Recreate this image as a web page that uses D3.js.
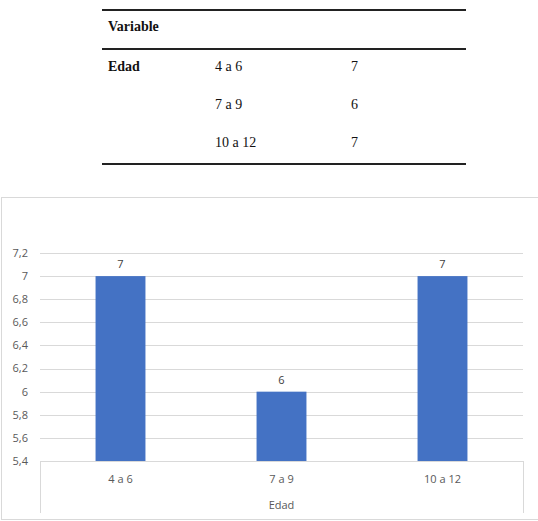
<!DOCTYPE html>
<html><head><meta charset="utf-8">
<script src="https://cdn.jsdelivr.net/npm/d3@7"></script>
<style>body{margin:0;background:#fff}svg{display:block}</style>
</head><body>
<script>
const categories = ["4 a 6", "7 a 9", "10 a 12"];
const values = [7, 6, 7];
const yTicks = [5.4, 5.6, 5.8, 6, 6.2, 6.4, 6.6, 6.8, 7, 7.2];
const tableHeader = "Variable";
const groupLabel = "Edad";

(function () {
const W = 538, H = 521;
const svg = d3.select("body").append("svg").attr("width", W).attr("height", H);

// ---- Table ----
const tFont = "'Liberation Serif','Times New Roman',serif";
const tx0 = 102, tx1 = 466;
[10, 49, 164].forEach(yy => svg.append("line").attr("x1", tx0).attr("x2", tx1).attr("y1", yy).attr("y2", yy)
  .attr("stroke", "#222").attr("stroke-width", 2));
svg.append("text").attr("x", 108).attr("y", 31).attr("font-family", tFont).attr("font-size", 14)
  .attr("font-weight", "bold").attr("fill", "#111").text(tableHeader);
svg.append("text").attr("x", 108).attr("y", 71).attr("font-family", tFont).attr("font-size", 14)
  .attr("font-weight", "bold").attr("fill", "#111").text(groupLabel);
categories.forEach((c, i) => {
  const yy = 71 + i * 38;
  svg.append("text").attr("x", 215).attr("y", yy).attr("font-family", tFont).attr("font-size", 14).attr("fill", "#111").text(c);
  svg.append("text").attr("x", 351).attr("y", yy).attr("font-family", tFont).attr("font-size", 14).attr("fill", "#111").text(values[i]);
});

// ---- Chart ----
const cFont = "'Open Sans','Liberation Sans',sans-serif";
const gray = "#595959";
svg.append("rect").attr("x", 1.5).attr("y", 197.5).attr("width", 545).attr("height", 322)
  .attr("fill", "none").attr("stroke", "#d9d9d9");

const pLeft = 40, pRight = 523, pTop = 253, pBottom = 461;
const x = d3.scaleBand().domain(categories).range([pLeft, pRight]).paddingInner(0.69).paddingOuter(0.345);
const y = d3.scaleLinear().domain([5.4, 7.2]).range([pBottom, pTop]);

svg.append("g").selectAll("line").data(yTicks.slice(1)).join("line")
  .attr("x1", pLeft).attr("x2", pRight).attr("y1", d => Math.round(y(d)) + 0.5).attr("y2", d => Math.round(y(d)) + 0.5)
  .attr("stroke", "#d9d9d9");

svg.append("g").selectAll("text").data(yTicks).join("text")
  .attr("x", 28).attr("y", d => y(d)).attr("dy", "0.35em").attr("text-anchor", "end")
  .attr("font-family", cFont).attr("font-size", 11).attr("fill", gray)
  .text(d => d3.format(".1~f")(d).replace(".", ","));

svg.append("g").selectAll("rect").data(values).join("rect")
  .attr("x", (d, i) => x(categories[i])).attr("width", x.bandwidth())
  .attr("y", d => y(d)).attr("height", d => pBottom - y(d)).attr("fill", "#4472c4");

svg.append("g").selectAll("text").data(values).join("text")
  .attr("x", (d, i) => x(categories[i]) + x.bandwidth() / 2).attr("y", d => y(d) - 12).attr("dy", "0.35em")
  .attr("text-anchor", "middle").attr("font-family", cFont).attr("font-size", 11).attr("fill", "#404040").text(d => d);

svg.append("line").attr("x1", pLeft).attr("x2", pRight).attr("y1", pBottom + 0.5).attr("y2", pBottom + 0.5).attr("stroke", "#d9d9d9");
[pLeft, pRight].forEach(xx => svg.append("line").attr("x1", xx + 0.5).attr("x2", xx + 0.5).attr("y1", pBottom).attr("y2", 513).attr("stroke", "#d9d9d9"));

svg.append("g").selectAll("text").data(categories).join("text")
  .attr("x", d => x(d) + x.bandwidth() / 2).attr("y", 479).attr("dy", "0.35em").attr("text-anchor", "middle")
  .attr("font-family", cFont).attr("font-size", 11).attr("fill", gray).text(d => d);
svg.append("text").attr("x", (pLeft + pRight) / 2).attr("y", 505).attr("dy", "0.35em").attr("text-anchor", "middle")
  .attr("font-family", cFont).attr("font-size", 11).attr("fill", gray).text(groupLabel);
})();
</script>
</body></html>
